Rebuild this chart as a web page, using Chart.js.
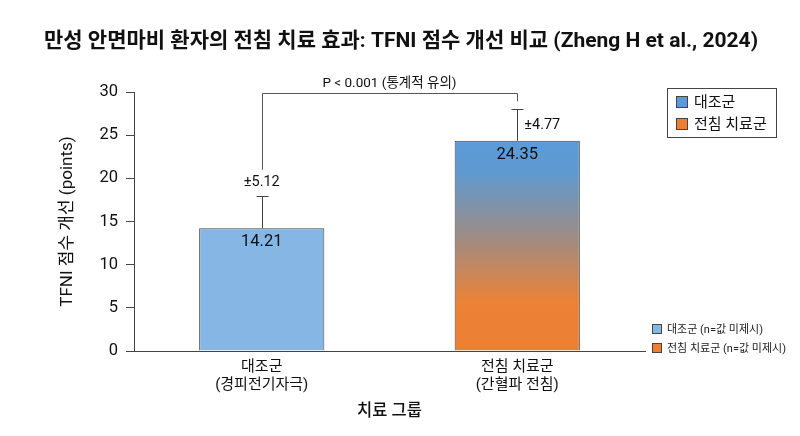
<!DOCTYPE html>
<html>
<head>
<meta charset="utf-8">
<script src="https://cdn.jsdelivr.net/npm/chart.js@4"></script>
<style>
  html, body { margin: 0; padding: 0; background: #fff; }
  #wrap { width: 800px; height: 436px; }
</style>
</head>
<body>
<div id="wrap"><canvas id="c" width="800" height="436"></canvas></div>
<script>
// data
var categories = [['대조군', '(경피전기자극)'], ['전침 치료군', '(간혈파 전침)']];
var meanScores = [14.21, 24.35];
var sdValues = [5.12, 4.77];
var whiskerTops = [18.0, 28.0];   // where the drawn error bars end
var legendNames = ['대조군', '전침 치료군'];
var noteNames = ['대조군 (n=값 미제시)', '전침 치료군 (n=값 미제시)'];
var pText = 'P < 0.001 (통계적 유의)';
var bracketLevel = 29.9;
var yTicks = [0, 5, 10, 15, 20, 25, 30];

var FONT = "Roboto, 'Noto Sans CJK KR', sans-serif";
var blue = '#5b9bd5';
var lightBlue = '#86b6e3';
var orange = '#ed7d31';

Chart.defaults.font.family = FONT;
Chart.defaults.color = '#111';

function barFill(ctx) {
  if (ctx.dataIndex == 0) return lightBlue;
  var chart = ctx.chart;
  var area = chart.chartArea;
  if (!area) return orange;
  var y = chart.scales.y;
  var top = y.getPixelForValue(meanScores[1]);
  var bot = y.getPixelForValue(0);
  var g = chart.ctx.createLinearGradient(0, top, 0, bot);
  g.addColorStop(0, '#5b9bd8');
  g.addColorStop(0.15, '#5f9ad0');
  g.addColorStop(0.45, '#9c8c86');
  g.addColorStop(0.77, '#ec8236');
  g.addColorStop(1, '#ec7f33');
  return g;
}

var extras = {
  id: 'extras',
  afterDatasetsDraw: function(chart) {
    var c = chart.ctx;
    var x = chart.scales.x, y = chart.scales.y;
    c.save();

    // title
    c.fillStyle = '#111';
    c.font = 'bold 21px ' + FONT;
    c.textAlign = 'center';
    c.textBaseline = 'middle';
    c.fillText('만성 안면마비 환자의 전침 치료 효과: TFNI 점수 개선 비교 (Zheng H et al., 2024)', 401, 42);

    // error bars
    c.strokeStyle = '#444';
    c.lineWidth = 1;
    for (var i = 0; i < meanScores.length; i++) {
      var cx = Math.round(x.getPixelForValue(i)) + 0.5;
      var yt = Math.round(y.getPixelForValue(whiskerTops[i])) + 0.5;
      var yb = y.getPixelForValue(meanScores[i]);
      c.beginPath();
      c.moveTo(cx, yb); c.lineTo(cx, yt);
      c.moveTo(cx - 6, yt); c.lineTo(cx + 6, yt);
      c.stroke();
    }

    // sd labels
    c.fillStyle = '#111';
    c.font = '14.5px ' + FONT;
    var x0 = x.getPixelForValue(0), x1 = x.getPixelForValue(1);
    var cap0 = y.getPixelForValue(whiskerTops[0]);
    c.textAlign = 'center';
    c.fillText('±' + sdValues[0].toFixed(2), x0, cap0 - 13);
    c.textAlign = 'left';
    c.fillText('±' + sdValues[1].toFixed(2), x1 + 7, (y.getPixelForValue(whiskerTops[1]) + y.getPixelForValue(meanScores[1])) / 2);

    // values inside bars
    c.textAlign = 'center';
    c.font = '16.5px ' + FONT;
    for (var j = 0; j < meanScores.length; j++) {
      c.fillText(meanScores[j].toFixed(2), x.getPixelForValue(j), y.getPixelForValue(meanScores[j]) + 14);
    }

    // significance bracket
    var by = Math.round(y.getPixelForValue(bracketLevel)) + 0.5;
    c.strokeStyle = '#555';
    c.beginPath();
    c.moveTo(Math.round(x0) + 0.5, cap0 - 26);
    c.lineTo(Math.round(x0) + 0.5, by);
    c.lineTo(Math.round(x1) + 0.5, by);
    c.lineTo(Math.round(x1) + 0.5, y.getPixelForValue(whiskerTops[1]) - 8);
    c.stroke();
    c.font = '13.5px ' + FONT;
    c.fillStyle = '#111';
    c.fillText(pText, (x0 + x1) / 2, by - 10);

    // top-right legend
    c.strokeStyle = '#444';
    c.strokeRect(667.5, 88.5, 109, 49);
    var sw = [blue, orange];
    c.textAlign = 'left';
    c.font = '15px ' + FONT;
    for (var k = 0; k < legendNames.length; k++) {
      var ly = 102 + k * 22;
      c.fillStyle = sw[k];
      c.fillRect(676, ly - 6, 12, 12);
      c.strokeRect(676.5, ly - 5.5, 11, 11);
      c.fillStyle = '#111';
      c.fillText(legendNames[k], 694, ly + 1);
    }

    // bottom-right note
    c.font = '11px ' + FONT;
    for (var m = 0; m < noteNames.length; m++) {
      var ny = 329 + m * 19;
      c.fillStyle = m == 0 ? lightBlue : orange;
      c.fillRect(652, ny - 5, 10, 10);
      c.strokeRect(652.5, ny - 4.5, 9, 9);
      c.fillStyle = '#222';
      c.fillText(noteNames[m], 667, ny + 1);
    }
    c.restore();
  }
};

new Chart(document.getElementById('c'), {
  type: 'bar',
  data: {
    labels: categories,
    datasets: [{
      data: meanScores,
      backgroundColor: barFill,
      borderColor: '#444',
      borderWidth: 1,
      barPercentage: 0.49,
      categoryPercentage: 1
    }]
  },
  options: {
    responsive: false,
    animation: false,
    layout: { padding: { top: 92, right: 155, bottom: 0, left: 0 } },
    plugins: {
      legend: { display: false },
      tooltip: { enabled: false }
    },
    scales: {
      x: {
        grid: { display: false, drawTicks: false },
        border: { color: '#444' },
        ticks: { font: { size: 15 }, color: '#111', padding: 7 },
        title: { display: true, text: '치료 그룹', font: { size: 16.5, weight: '500' }, color: '#111', padding: { top: 0, bottom: 14 } },
        afterFit: function(s) { s.height = 85; }
      },
      y: {
        min: 0,
        max: 30,
        afterBuildTicks: function(s) { s.ticks = yTicks.map(function(v) { return { value: v }; }); },
        grid: { drawOnChartArea: false, tickLength: 8, color: '#444' },
        border: { color: '#444' },
        ticks: { font: { size: 16.5 }, color: '#111', padding: 8 },
        title: { display: true, text: 'TFNI 점수 개선 (points)', font: { size: 17 }, color: '#111', padding: { top: 58, bottom: 0 } },
        afterFit: function(s) { s.width = 134; }
      }
    }
  },
  plugins: [extras]
});
</script>
</body>
</html>
